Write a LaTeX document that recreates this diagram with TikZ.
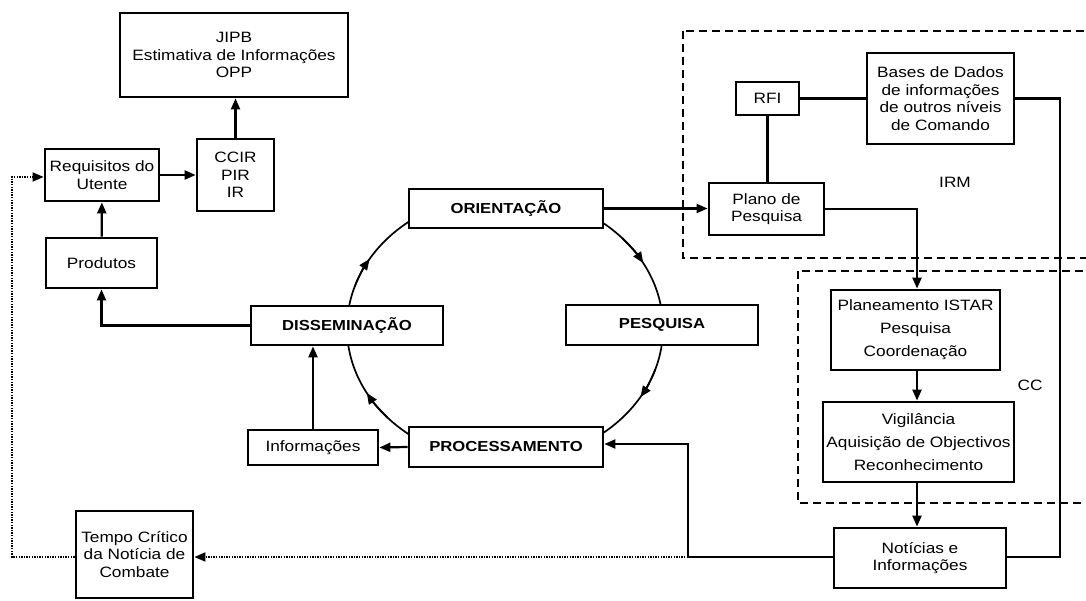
\documentclass[tikz,border=0pt]{standalone}
\usepackage{fontspec}
\setmainfont{Liberation Sans}[FakeStretch=1.15]
\usetikzlibrary{arrows.meta}

\begin{document}
\begin{tikzpicture}[x=1pt,y=-1pt,
  box/.style={draw, line width=2.8pt, fill=white, align=center, inner sep=0pt,
              font=\fontsize{15}{17.5}\selectfont},
  cycbox/.style={box, font=\fontsize{14.5}{17}\selectfont\bfseries},
  widebox/.style={box, font=\fontsize{15}{23}\selectfont},
  link/.style={line width=2.2pt, -{Triangle[length=11pt,width=9pt]}},
  plain/.style={line width=2.2pt},
  dotlink/.style={line width=1.8pt, dash pattern=on 1.4pt off 1.2pt,
                  -{Triangle[length=11pt,width=9pt]}},
  zone/.style={line width=2.8pt, dash pattern=on 8pt off 5pt},
  ring/.style={line width=1.7pt},
  ringtip/.style={line width=1.7pt, -{Triangle[length=11pt,width=9pt]}},
  label/.style={font=\fontsize{15}{17.5}\selectfont},
]
\useasboundingbox (0,0) rectangle (1086,601);

% dashed zones
\draw[zone] (683,31) rectangle (1092,258);
\draw[zone] (798,271) rectangle (1092,503);
\node[label] (irm) at (955,182) {IRM};
\node[label] (cc) at (1030,385) {CC};

% intelligence cycle ring
\coordinate (centre) at (505,328);
\draw[ring] (centre) ellipse [x radius=158, y radius=134];
\foreach \a in {-42,18,138,198}
  \draw[ringtip] (centre) ++(\a:158 and 134)
    arc[start angle=\a, end angle=\a+13, x radius=158, y radius=134];

% cycle stages
\node[cycbox, minimum width=194, minimum height=39] (orient) at (506,208.5) {ORIENTAÇÃO};
\node[cycbox, minimum width=192, minimum height=40] (pesq) at (662,325) {PESQUISA};
\node[cycbox, minimum width=194, minimum height=40] (proc) at (506,447) {PROCESSAMENTO};
\node[cycbox, minimum width=192, minimum height=39] (diss) at (347,325.5) {DISSEMINAÇÃO};

% left-hand boxes
\node[box, minimum width=228, minimum height=84] (jipb) at (234,55)
  {JIPB\\Estimativa de Informações\\OPP};
\node[box, minimum width=114, minimum height=52] (req) at (102,175)
  {Requisitos do\\Utente};
\node[box, minimum width=77, minimum height=72] (ccir) at (235.5,175)
  {CCIR\\PIR\\IR};
\node[box, minimum width=111, minimum height=50] (prod) at (101.5,263) {Produtos};
\node[box, minimum width=130, minimum height=35] (info) at (313,447.5) {Informações};
\node[box, minimum width=117, minimum height=87] (tempo) at (134.5,554.5)
  {Tempo Crítico\\da Notícia de\\Combate};

% right-hand boxes
\node[box, minimum width=63, minimum height=33] (rfi) at (767.5,98.5) {RFI};
\node[box, minimum width=147, minimum height=91] (bases) at (940.5,98.5)
  {Bases de Dados\\de informações\\de outros níveis\\de Comando};
\node[box, minimum width=115, minimum height=52] (plano) at (766.5,209)
  {Plano de\\Pesquisa};
\node[widebox, minimum width=169, minimum height=80] (istar) at (915.5,330)
  {Planeamento ISTAR\\Pesquisa\\Coordenação};
\node[widebox, minimum width=191, minimum height=80] (vig) at (918.5,442)
  {Vigilância\\Aquisição de Objectivos\\Reconhecimento};
\node[box, minimum width=172, minimum height=60] (noticias) at (920,558)
  {Notícias e\\Informações};

% junction points
\coordinate (split) at (688,557);
\coordinate (baseturn) at (1060,557);
\coordinate (leftturn) at (12,177);

% connectors
\draw[link] (prod) -- (req);
\draw[link] (req) -- (ccir);
\draw[link] (ccir.north) -- (jipb.south -| ccir.north);
\draw[link] (diss.west) -| (prod.south);
\draw[link] (info.north) -- (info.north |- diss.south);
\draw[link] (proc.west) -- (info.east);
\draw[link] (orient.east) -- (plano.west |- orient.east);
\draw[plain] (rfi.south) -- (rfi.south |- plano.north);
\draw[plain] (rfi.east) -- (bases.west |- rfi.east);
\draw[link] (plano.east) -| ([xshift=1.5pt]istar.north);
\draw[link] ([xshift=1.5pt]istar.south) -- ([xshift=1.5pt]istar.south |- vig.north);
\draw[link] ([xshift=-1.5pt]vig.south) -- ([xshift=-1.5pt]vig.south |- noticias.north);
\draw[plain] (bases.east) -| (baseturn) -- (noticias.east |- baseturn);
\draw[link] (noticias.west |- split) -- (split) |- ([yshift=3pt]proc.east);
\draw[dotlink] (split) -- (tempo.east |- split);
\draw[dotlink] (tempo.west |- split) -| (leftturn) -- (req.west |- leftturn);
\end{tikzpicture}
\end{document}
